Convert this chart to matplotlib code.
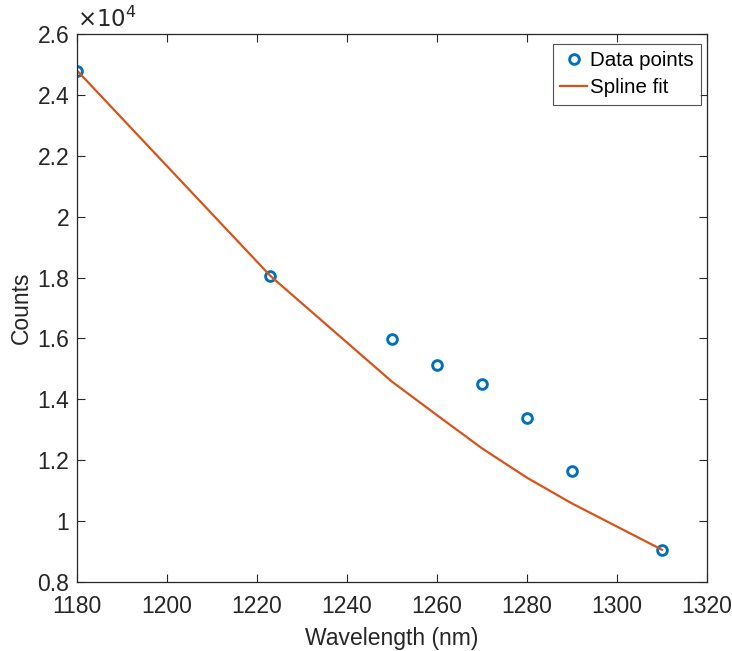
import matplotlib
matplotlib.use("Agg")
import matplotlib.pyplot as plt
from matplotlib.ticker import FuncFormatter

# measured points
wavelength = [1180, 1223, 1250, 1260, 1270, 1280, 1290, 1310]
counts = [24800, 18050, 15970, 15120, 14500, 13375, 11655, 9060]

# spline fit evaluated at the same wavelengths
fit_counts = [24800, 18050, 14580, 13480, 12390, 11425, 10580, 9060]

x_ticks = [1180, 1200, 1220, 1240, 1260, 1280, 1300, 1320]
y_ticks = [8000, 10000, 12000, 14000, 16000, 18000, 20000, 22000, 24000, 26000]

plt.rcParams['font.family'] = ['Liberation Sans', 'DejaVu Sans']
dark = '#262626'
fs = 16.5

fig = plt.figure(figsize=(7.32, 6.51), dpi=100)
ax = fig.add_axes([0.1052, 0.106, 0.8606, 0.8418])

ax.plot(wavelength, counts, 'o', linestyle='none', markerfacecolor='none',
        markeredgecolor='#0072BD', markersize=7, markeredgewidth=2.1,
        label='Data points')
ax.plot(wavelength, fit_counts, '-', color='#D95319', linewidth=1.6,
        label='Spline fit')

ax.set_xlim(1180, 1320)
ax.set_ylim(8000, 26000)
ax.set_xticks(x_ticks)
ax.set_yticks(y_ticks)
ax.yaxis.set_major_formatter(FuncFormatter(lambda v, p: f'{v / 1e4:g}'))

ax.tick_params(direction='in', length=6, width=0.8, colors=dark,
               labelsize=fs, top=True, right=True)
ax.tick_params(axis='x', pad=9.5)
ax.tick_params(axis='y', pad=5.5)
for s in ax.spines.values():
    s.set_color(dark)
    s.set_linewidth(0.9)

ax.set_xlabel('Wavelength (nm)', fontsize=fs, color=dark, labelpad=6.5)
ax.set_ylabel('Counts', fontsize=fs, color=dark, labelpad=3.5)

ax.text(0.0, 1.003, r'$\times10^{4}$', transform=ax.transAxes,
        fontsize=fs, color=dark, ha='left', va='bottom',
        math_fontfamily='custom')

leg = ax.legend(loc='upper right', bbox_to_anchor=(0.9905, 0.9818),
                fontsize=14.8, frameon=True, fancybox=False,
                borderpad=0.35, handlelength=1.3, handletextpad=0.15,
                labelspacing=0.4, borderaxespad=0.0)
leg.get_frame().set_edgecolor(dark)
leg.get_frame().set_linewidth(0.8)
for t in leg.get_texts():
    t.set_color('black')

fig.savefig('out.png', dpi=100, facecolor='white')
